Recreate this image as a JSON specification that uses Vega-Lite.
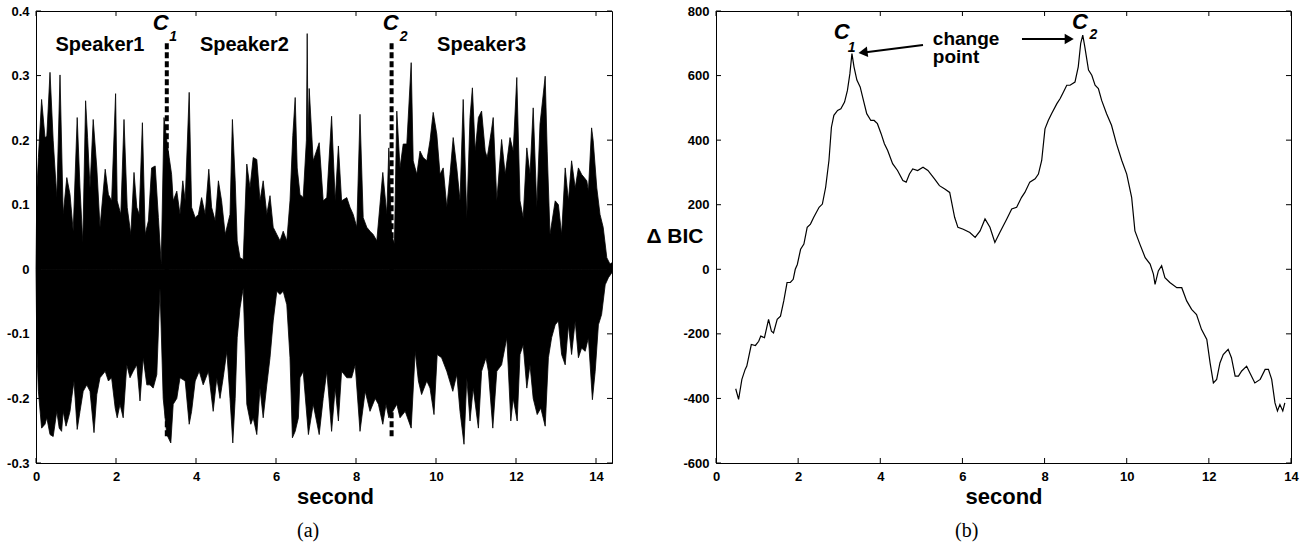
{
  "$schema": "https://vega.github.io/schema/vega-lite/v6.json",
  "padding": {"left": 6, "top": 4, "right": 5, "bottom": 5},
  "background": "white",
  "config": {
    "view": {"stroke": "black", "strokeWidth": 1},
    "font": "Liberation Sans",
    "axis": {
      "grid": false, "domainColor": "black", "labelColor": "black", "titleColor": "black",
      "labelFont": "Liberation Sans", "labelFontSize": 13, "labelFontWeight": "bold",
      "ticks": false, "tickSize": 0, "labelPadding": 7, "labelFlush": false, "labelOverlap": false,
      "titleFont": "Liberation Sans", "titleFontWeight": "bold", "titleFontSize": 22,
      "labelExpr": "replace(format(datum.value, '~g'), '\u2212', '-')"
    }
  },
  "datasets": {
    "wave": [
      {"s":"u","t":0.0,"v":0.0},{"s":"u","t":0.02,"v":0.12},{"s":"u","t":0.06,"v":0.173},{"s":"u","t":0.14,"v":0.263},{"s":"u","t":0.225,"v":0.204},{"s":"u","t":0.27,"v":0.206},{"s":"u","t":0.35,"v":0.305},{"s":"u","t":0.43,"v":0.199},{"s":"u","t":0.52,"v":0.111},{"s":"u","t":0.6,"v":0.301},{"s":"u","t":0.68,"v":0.085},{"s":"u","t":0.77,"v":0.142},{"s":"u","t":0.85,"v":0.116},{"s":"u","t":0.93,"v":0.059},{"s":"u","t":1.03,"v":0.235},{"s":"u","t":1.1,"v":0.126},{"s":"u","t":1.17,"v":0.041},{"s":"u","t":1.24,"v":0.261},{"s":"u","t":1.29,"v":0.204},{"s":"u","t":1.35,"v":0.126},{"s":"u","t":1.43,"v":0.232},{"s":"u","t":1.52,"v":0.157},{"s":"u","t":1.6,"v":0.065},{"s":"u","t":1.73,"v":0.155},{"s":"u","t":1.81,"v":0.116},{"s":"u","t":1.89,"v":0.106},{"s":"u","t":1.99,"v":0.272},{"s":"u","t":2.03,"v":0.106},{"s":"u","t":2.12,"v":0.085},{"s":"u","t":2.2,"v":0.232},{"s":"u","t":2.28,"v":0.096},{"s":"u","t":2.37,"v":0.054},{"s":"u","t":2.45,"v":0.15},{"s":"u","t":2.52,"v":0.096},{"s":"u","t":2.58,"v":0.085},{"s":"u","t":2.66,"v":0.227},{"s":"u","t":2.73,"v":0.054},{"s":"u","t":2.81,"v":0.075},{"s":"u","t":2.89,"v":0.157},{"s":"u","t":2.98,"v":0.16},{"s":"u","t":3.06,"v":0.08},{"s":"u","t":3.13,"v":0.008},{"s":"u","t":3.2,"v":0.235},{"s":"u","t":3.27,"v":0.199},{"s":"u","t":3.33,"v":0.173},{"s":"u","t":3.39,"v":0.147},{"s":"u","t":3.43,"v":0.106},{"s":"u","t":3.52,"v":0.121},{"s":"u","t":3.6,"v":0.085},{"s":"u","t":3.67,"v":0.137},{"s":"u","t":3.73,"v":0.106},{"s":"u","t":3.83,"v":0.274},{"s":"u","t":3.89,"v":0.096},{"s":"u","t":3.98,"v":0.08},{"s":"u","t":4.06,"v":0.085},{"s":"u","t":4.14,"v":0.111},{"s":"u","t":4.23,"v":0.085},{"s":"u","t":4.32,"v":0.155},{"s":"u","t":4.39,"v":0.096},{"s":"u","t":4.48,"v":0.075},{"s":"u","t":4.56,"v":0.137},{"s":"u","t":4.64,"v":0.106},{"s":"u","t":4.73,"v":0.054},{"s":"u","t":4.85,"v":0.085},{"s":"u","t":4.91,"v":0.232},{"s":"u","t":4.98,"v":0.137},{"s":"u","t":5.03,"v":0.044},{"s":"u","t":5.1,"v":0.018},{"s":"u","t":5.18,"v":0.015},{"s":"u","t":5.27,"v":0.163},{"s":"u","t":5.35,"v":0.126},{"s":"u","t":5.43,"v":0.173},{"s":"u","t":5.52,"v":0.17},{"s":"u","t":5.6,"v":0.106},{"s":"u","t":5.68,"v":0.137},{"s":"u","t":5.77,"v":0.085},{"s":"u","t":5.85,"v":0.114},{"s":"u","t":5.93,"v":0.065},{"s":"u","t":6.02,"v":0.054},{"s":"u","t":6.1,"v":0.044},{"s":"u","t":6.18,"v":0.059},{"s":"u","t":6.27,"v":0.044},{"s":"u","t":6.35,"v":0.106},{"s":"u","t":6.42,"v":0.207},{"s":"u","t":6.48,"v":0.266},{"s":"u","t":6.53,"v":0.157},{"s":"u","t":6.6,"v":0.116},{"s":"u","t":6.68,"v":0.111},{"s":"u","t":6.76,"v":0.2},{"s":"u","t":6.78,"v":0.365},{"s":"u","t":6.8,"v":0.2},{"s":"u","t":6.83,"v":0.28},{"s":"u","t":6.93,"v":0.168},{"s":"u","t":7.08,"v":0.196},{"s":"u","t":7.18,"v":0.106},{"s":"u","t":7.27,"v":0.111},{"s":"u","t":7.39,"v":0.237},{"s":"u","t":7.48,"v":0.106},{"s":"u","t":7.56,"v":0.191},{"s":"u","t":7.64,"v":0.106},{"s":"u","t":7.77,"v":0.111},{"s":"u","t":7.85,"v":0.096},{"s":"u","t":7.93,"v":0.085},{"s":"u","t":8.02,"v":0.065},{"s":"u","t":8.1,"v":0.24},{"s":"u","t":8.18,"v":0.08},{"s":"u","t":8.27,"v":0.065},{"s":"u","t":8.35,"v":0.059},{"s":"u","t":8.43,"v":0.054},{"s":"u","t":8.52,"v":0.044},{"s":"u","t":8.67,"v":0.15},{"s":"u","t":8.77,"v":0.085},{"s":"u","t":8.82,"v":0.188},{"s":"u","t":8.89,"v":0.054},{"s":"u","t":8.96,"v":0.039},{"s":"u","t":9.02,"v":0.245},{"s":"u","t":9.1,"v":0.157},{"s":"u","t":9.18,"v":0.194},{"s":"u","t":9.27,"v":0.194},{"s":"u","t":9.38,"v":0.32},{"s":"u","t":9.43,"v":0.168},{"s":"u","t":9.52,"v":0.147},{"s":"u","t":9.6,"v":0.183},{"s":"u","t":9.68,"v":0.173},{"s":"u","t":9.77,"v":0.168},{"s":"u","t":9.85,"v":0.199},{"s":"u","t":9.93,"v":0.243},{"s":"u","t":10.02,"v":0.209},{"s":"u","t":10.1,"v":0.147},{"s":"u","t":10.18,"v":0.157},{"s":"u","t":10.27,"v":0.096},{"s":"u","t":10.35,"v":0.147},{"s":"u","t":10.43,"v":0.204},{"s":"u","t":10.52,"v":0.157},{"s":"u","t":10.6,"v":0.106},{"s":"u","t":10.68,"v":0.263},{"s":"u","t":10.77,"v":0.08},{"s":"u","t":10.85,"v":0.235},{"s":"u","t":10.91,"v":0.281},{"s":"u","t":10.98,"v":0.183},{"s":"u","t":11.06,"v":0.235},{"s":"u","t":11.14,"v":0.245},{"s":"u","t":11.23,"v":0.183},{"s":"u","t":11.28,"v":0.173},{"s":"u","t":11.39,"v":0.217},{"s":"u","t":11.43,"v":0.235},{"s":"u","t":11.52,"v":0.106},{"s":"u","t":11.64,"v":0.201},{"s":"u","t":11.73,"v":0.147},{"s":"u","t":11.85,"v":0.204},{"s":"u","t":11.93,"v":0.183},{"s":"u","t":12.02,"v":0.297},{"s":"u","t":12.1,"v":0.106},{"s":"u","t":12.18,"v":0.08},{"s":"u","t":12.27,"v":0.188},{"s":"u","t":12.35,"v":0.147},{"s":"u","t":12.43,"v":0.25},{"s":"u","t":12.52,"v":0.096},{"s":"u","t":12.6,"v":0.225},{"s":"u","t":12.73,"v":0.299},{"s":"u","t":12.78,"v":0.183},{"s":"u","t":12.85,"v":0.054},{"s":"u","t":12.98,"v":0.106},{"s":"u","t":13.06,"v":0.1},{"s":"u","t":13.14,"v":0.054},{"s":"u","t":13.23,"v":0.157},{"s":"u","t":13.31,"v":0.106},{"s":"u","t":13.39,"v":0.168},{"s":"u","t":13.48,"v":0.126},{"s":"u","t":13.56,"v":0.157},{"s":"u","t":13.64,"v":0.147},{"s":"u","t":13.77,"v":0.137},{"s":"u","t":13.81,"v":0.121},{"s":"u","t":13.89,"v":0.219},{"s":"u","t":13.93,"v":0.199},{"s":"u","t":14.02,"v":0.126},{"s":"u","t":14.1,"v":0.085},{"s":"u","t":14.18,"v":0.065},{"s":"u","t":14.27,"v":0.018},{"s":"u","t":14.35,"v":0.008},{"s":"u","t":14.4,"v":0.01},
      {"s":"d","t":0.0,"v":0.0},{"s":"d","t":0.02,"v":-0.12},{"s":"d","t":0.06,"v":-0.189},{"s":"d","t":0.14,"v":-0.246},{"s":"d","t":0.225,"v":-0.24},{"s":"d","t":0.27,"v":-0.23},{"s":"d","t":0.35,"v":-0.256},{"s":"d","t":0.43,"v":-0.259},{"s":"d","t":0.52,"v":-0.22},{"s":"d","t":0.58,"v":-0.246},{"s":"d","t":0.64,"v":-0.251},{"s":"d","t":0.68,"v":-0.22},{"s":"d","t":0.75,"v":-0.243},{"s":"d","t":0.81,"v":-0.23},{"s":"d","t":0.85,"v":-0.22},{"s":"d","t":0.89,"v":-0.2},{"s":"d","t":0.95,"v":-0.173},{"s":"d","t":1.03,"v":-0.248},{"s":"d","t":1.1,"v":-0.22},{"s":"d","t":1.18,"v":-0.189},{"s":"d","t":1.27,"v":-0.179},{"s":"d","t":1.35,"v":-0.189},{"s":"d","t":1.45,"v":-0.253},{"s":"d","t":1.52,"v":-0.194},{"s":"d","t":1.6,"v":-0.168},{"s":"d","t":1.73,"v":-0.158},{"s":"d","t":1.81,"v":-0.173},{"s":"d","t":1.89,"v":-0.168},{"s":"d","t":1.98,"v":-0.215},{"s":"d","t":2.03,"v":-0.23},{"s":"d","t":2.1,"v":-0.209},{"s":"d","t":2.18,"v":-0.23},{"s":"d","t":2.27,"v":-0.148},{"s":"d","t":2.35,"v":-0.168},{"s":"d","t":2.43,"v":-0.158},{"s":"d","t":2.52,"v":-0.148},{"s":"d","t":2.6,"v":-0.204},{"s":"d","t":2.68,"v":-0.137},{"s":"d","t":2.77,"v":-0.179},{"s":"d","t":2.85,"v":-0.179},{"s":"d","t":2.93,"v":-0.184},{"s":"d","t":3.02,"v":-0.163},{"s":"d","t":3.1,"v":-0.029},{"s":"d","t":3.18,"v":-0.2},{"s":"d","t":3.27,"v":-0.256},{"s":"d","t":3.37,"v":-0.269},{"s":"d","t":3.43,"v":-0.209},{"s":"d","t":3.52,"v":-0.2},{"s":"d","t":3.6,"v":-0.168},{"s":"d","t":3.73,"v":-0.173},{"s":"d","t":3.83,"v":-0.24},{"s":"d","t":3.89,"v":-0.22},{"s":"d","t":3.98,"v":-0.173},{"s":"d","t":4.08,"v":-0.158},{"s":"d","t":4.18,"v":-0.179},{"s":"d","t":4.31,"v":-0.158},{"s":"d","t":4.43,"v":-0.22},{"s":"d","t":4.52,"v":-0.168},{"s":"d","t":4.6,"v":-0.2},{"s":"d","t":4.68,"v":-0.168},{"s":"d","t":4.77,"v":-0.127},{"s":"d","t":4.85,"v":-0.2},{"s":"d","t":4.92,"v":-0.269},{"s":"d","t":4.98,"v":-0.2},{"s":"d","t":5.03,"v":-0.106},{"s":"d","t":5.1,"v":-0.06},{"s":"d","t":5.18,"v":-0.029},{"s":"d","t":5.27,"v":-0.209},{"s":"d","t":5.37,"v":-0.24},{"s":"d","t":5.43,"v":-0.23},{"s":"d","t":5.52,"v":-0.256},{"s":"d","t":5.6,"v":-0.184},{"s":"d","t":5.68,"v":-0.23},{"s":"d","t":5.77,"v":-0.179},{"s":"d","t":5.85,"v":-0.137},{"s":"d","t":5.93,"v":-0.08},{"s":"d","t":6.02,"v":-0.034},{"s":"d","t":6.1,"v":-0.039},{"s":"d","t":6.18,"v":-0.034},{"s":"d","t":6.27,"v":-0.055},{"s":"d","t":6.35,"v":-0.137},{"s":"d","t":6.41,"v":-0.261},{"s":"d","t":6.48,"v":-0.251},{"s":"d","t":6.56,"v":-0.23},{"s":"d","t":6.6,"v":-0.168},{"s":"d","t":6.68,"v":-0.158},{"s":"d","t":6.81,"v":-0.256},{"s":"d","t":6.93,"v":-0.209},{"s":"d","t":7.08,"v":-0.256},{"s":"d","t":7.18,"v":-0.2},{"s":"d","t":7.27,"v":-0.158},{"s":"d","t":7.39,"v":-0.251},{"s":"d","t":7.48,"v":-0.184},{"s":"d","t":7.56,"v":-0.235},{"s":"d","t":7.64,"v":-0.158},{"s":"d","t":7.77,"v":-0.168},{"s":"d","t":7.89,"v":-0.168},{"s":"d","t":7.98,"v":-0.148},{"s":"d","t":8.1,"v":-0.251},{"s":"d","t":8.23,"v":-0.189},{"s":"d","t":8.35,"v":-0.22},{"s":"d","t":8.48,"v":-0.2},{"s":"d","t":8.56,"v":-0.209},{"s":"d","t":8.67,"v":-0.24},{"s":"d","t":8.75,"v":-0.209},{"s":"d","t":8.82,"v":-0.23},{"s":"d","t":8.92,"v":-0.22},{"s":"d","t":9.02,"v":-0.209},{"s":"d","t":9.1,"v":-0.23},{"s":"d","t":9.23,"v":-0.22},{"s":"d","t":9.38,"v":-0.246},{"s":"d","t":9.48,"v":-0.127},{"s":"d","t":9.56,"v":-0.173},{"s":"d","t":9.64,"v":-0.194},{"s":"d","t":9.77,"v":-0.173},{"s":"d","t":9.85,"v":-0.184},{"s":"d","t":9.95,"v":-0.225},{"s":"d","t":10.03,"v":-0.132},{"s":"d","t":10.14,"v":-0.137},{"s":"d","t":10.27,"v":-0.158},{"s":"d","t":10.42,"v":-0.189},{"s":"d","t":10.52,"v":-0.163},{"s":"d","t":10.6,"v":-0.22},{"s":"d","t":10.7,"v":-0.271},{"s":"d","t":10.77,"v":-0.168},{"s":"d","t":10.85,"v":-0.235},{"s":"d","t":10.93,"v":-0.184},{"s":"d","t":11.06,"v":-0.246},{"s":"d","t":11.14,"v":-0.158},{"s":"d","t":11.25,"v":-0.137},{"s":"d","t":11.31,"v":-0.158},{"s":"d","t":11.42,"v":-0.246},{"s":"d","t":11.52,"v":-0.158},{"s":"d","t":11.64,"v":-0.148},{"s":"d","t":11.77,"v":-0.106},{"s":"d","t":11.87,"v":-0.235},{"s":"d","t":11.93,"v":-0.2},{"s":"d","t":12.03,"v":-0.235},{"s":"d","t":12.1,"v":-0.132},{"s":"d","t":12.18,"v":-0.117},{"s":"d","t":12.27,"v":-0.184},{"s":"d","t":12.35,"v":-0.148},{"s":"d","t":12.43,"v":-0.2},{"s":"d","t":12.53,"v":-0.225},{"s":"d","t":12.62,"v":-0.215},{"s":"d","t":12.73,"v":-0.243},{"s":"d","t":12.81,"v":-0.137},{"s":"d","t":12.89,"v":-0.106},{"s":"d","t":12.98,"v":-0.086},{"s":"d","t":13.06,"v":-0.08},{"s":"d","t":13.14,"v":-0.132},{"s":"d","t":13.23,"v":-0.148},{"s":"d","t":13.31,"v":-0.086},{"s":"d","t":13.39,"v":-0.132},{"s":"d","t":13.48,"v":-0.08},{"s":"d","t":13.56,"v":-0.137},{"s":"d","t":13.64,"v":-0.122},{"s":"d","t":13.73,"v":-0.127},{"s":"d","t":13.81,"v":-0.106},{"s":"d","t":13.91,"v":-0.202},{"s":"d","t":13.98,"v":-0.158},{"s":"d","t":14.06,"v":-0.086},{"s":"d","t":14.14,"v":-0.07},{"s":"d","t":14.23,"v":-0.024},{"s":"d","t":14.31,"v":-0.013},{"s":"d","t":14.4,"v":-0.005}
    ],
    "bic": [
      {"t":0.48,"v":-370},{"t":0.55,"v":-403},{"t":0.63,"v":-341},{"t":0.71,"v":-310},{"t":0.75,"v":-300},{"t":0.86,"v":-233},{"t":0.96,"v":-236},{"t":1.04,"v":-223},{"t":1.09,"v":-207},{"t":1.18,"v":-212},{"t":1.28,"v":-155},{"t":1.35,"v":-192},{"t":1.4,"v":-197},{"t":1.49,"v":-155},{"t":1.57,"v":-145},{"t":1.65,"v":-98},{"t":1.73,"v":-41},{"t":1.81,"v":-41},{"t":1.88,"v":-31},{"t":1.93,"v":0},{"t":1.98,"v":15},{"t":2.06,"v":62},{"t":2.14,"v":78},{"t":2.22,"v":130},{"t":2.3,"v":140},{"t":2.38,"v":161},{"t":2.51,"v":192},{"t":2.59,"v":202},{"t":2.67,"v":254},{"t":2.75,"v":337},{"t":2.81,"v":440},{"t":2.87,"v":477},{"t":2.96,"v":492},{"t":3.04,"v":497},{"t":3.13,"v":518},{"t":3.2,"v":554},{"t":3.26,"v":606},{"t":3.31,"v":668},{"t":3.36,"v":627},{"t":3.43,"v":586},{"t":3.51,"v":565},{"t":3.59,"v":523},{"t":3.67,"v":482},{"t":3.77,"v":461},{"t":3.85,"v":461},{"t":3.93,"v":451},{"t":4.02,"v":420},{"t":4.1,"v":389},{"t":4.18,"v":368},{"t":4.3,"v":327},{"t":4.42,"v":306},{"t":4.55,"v":275},{"t":4.63,"v":270},{"t":4.71,"v":295},{"t":4.79,"v":311},{"t":4.91,"v":306},{"t":5.04,"v":316},{"t":5.16,"v":306},{"t":5.32,"v":280},{"t":5.44,"v":259},{"t":5.57,"v":249},{"t":5.69,"v":238},{"t":5.81,"v":161},{"t":5.89,"v":130},{"t":6.02,"v":124},{"t":6.18,"v":114},{"t":6.31,"v":99},{"t":6.43,"v":119},{"t":6.55,"v":156},{"t":6.67,"v":130},{"t":6.79,"v":83},{"t":6.91,"v":114},{"t":7.08,"v":156},{"t":7.2,"v":187},{"t":7.32,"v":192},{"t":7.44,"v":223},{"t":7.52,"v":238},{"t":7.64,"v":270},{"t":7.77,"v":280},{"t":7.85,"v":295},{"t":7.93,"v":337},{"t":8.01,"v":435},{"t":8.09,"v":461},{"t":8.17,"v":482},{"t":8.3,"v":513},{"t":8.38,"v":529},{"t":8.46,"v":549},{"t":8.54,"v":570},{"t":8.62,"v":570},{"t":8.74,"v":580},{"t":8.82,"v":627},{"t":8.88,"v":700},{"t":8.93,"v":725},{"t":8.98,"v":689},{"t":9.07,"v":617},{"t":9.15,"v":601},{"t":9.23,"v":570},{"t":9.31,"v":560},{"t":9.39,"v":523},{"t":9.51,"v":482},{"t":9.63,"v":446},{"t":9.75,"v":389},{"t":9.88,"v":337},{"t":10.0,"v":295},{"t":10.12,"v":223},{"t":10.2,"v":119},{"t":10.32,"v":78},{"t":10.45,"v":36},{"t":10.57,"v":16},{"t":10.65,"v":-15},{"t":10.69,"v":-47},{"t":10.77,"v":-5},{"t":10.85,"v":11},{"t":10.93,"v":-26},{"t":11.05,"v":-41},{"t":11.22,"v":-57},{"t":11.34,"v":-57},{"t":11.46,"v":-98},{"t":11.58,"v":-124},{"t":11.7,"v":-140},{"t":11.82,"v":-186},{"t":11.95,"v":-217},{"t":12.03,"v":-290},{"t":12.11,"v":-352},{"t":12.19,"v":-341},{"t":12.27,"v":-290},{"t":12.35,"v":-264},{"t":12.47,"v":-248},{"t":12.55,"v":-274},{"t":12.64,"v":-331},{"t":12.72,"v":-331},{"t":12.8,"v":-315},{"t":12.92,"v":-300},{"t":13.0,"v":-321},{"t":13.12,"v":-352},{"t":13.25,"v":-341},{"t":13.37,"v":-310},{"t":13.45,"v":-310},{"t":13.53,"v":-341},{"t":13.61,"v":-414},{"t":13.67,"v":-439},{"t":13.73,"v":-419},{"t":13.8,"v":-439},{"t":13.85,"v":-414}
    ],
    "cps": [{"cp":"C1","t":3.27},{"cp":"C2","t":8.89}],
    "spk": [{"label":"Speaker1","t":1.6},{"label":"Speaker2","t":5.21},{"label":"Speaker3","t":11.14}],
    "xt": [{"t":0},{"t":2},{"t":4},{"t":6},{"t":8},{"t":10},{"t":12},{"t":14}],
    "ytl": [{"v":-0.3},{"v":-0.2},{"v":-0.1},{"v":0},{"v":0.1},{"v":0.2},{"v":0.3},{"v":0.4}],
    "ytr": [{"v":-600},{"v":-400},{"v":-200},{"v":0},{"v":200},{"v":400},{"v":600},{"v":800}],
    "one": [{}]
  },
  "spacing": 104,
  "bounds": "flush",
  "hconcat": [
    {
      "width": 576, "height": 452,
      "title": {"text": "(a)", "orient": "bottom", "frame": "group", "anchor": "start", "dx": 261, "offset": 14, "font": "Liberation Serif", "fontSize": 20, "fontWeight": "normal", "color": "black"},
      "layer": [
        {
          "data": {"name": "wave"},
          "mark": {"type": "area", "color": "black", "stroke": "black", "strokeWidth": 0.8, "interpolate": "linear"},
          "encoding": {
            "x": {"field": "t", "type": "quantitative", "scale": {"domain": [0, 14.4], "nice": false, "zero": false},
                  "axis": {"values": [0,2,4,6,8,10,12,14], "title": "second", "titleX": 299, "titleY": 40, "titleBaseline": "alphabetic"}},
            "y": {"field": "v", "type": "quantitative", "scale": {"domain": [-0.3, 0.4], "nice": false},
                  "axis": {"values": [-0.3,-0.2,-0.1,0,0.1,0.2,0.3,0.4], "title": null}},
            "y2": {"datum": 0},
            "detail": {"field": "s"}
          }
        },
        {
          "data": {"name": "xt"},
          "mark": {"type": "rule", "color": "black", "strokeWidth": 1},
          "encoding": {"x": {"field": "t", "type": "quantitative"}, "y": {"datum": -0.3, "type": "quantitative"}, "y2": {"datum": -0.2923}}
        },
        {
          "data": {"name": "xt"},
          "mark": {"type": "rule", "color": "black", "strokeWidth": 1},
          "encoding": {"x": {"field": "t", "type": "quantitative"}, "y": {"datum": 0.4, "type": "quantitative"}, "y2": {"datum": 0.3923}}
        },
        {
          "data": {"name": "ytl"},
          "mark": {"type": "rule", "color": "black", "strokeWidth": 1},
          "encoding": {"y": {"field": "v", "type": "quantitative"}, "x": {"datum": 0, "type": "quantitative"}, "x2": {"datum": 0.125}}
        },
        {
          "data": {"name": "ytl"},
          "mark": {"type": "rule", "color": "black", "strokeWidth": 1},
          "encoding": {"y": {"field": "v", "type": "quantitative"}, "x": {"datum": 14.4, "type": "quantitative"}, "x2": {"datum": 14.275}}
        },
        {
          "data": {"name": "cps"},
          "mark": {"type": "rule", "color": "black", "strokeWidth": 4, "strokeDash": [6, 3]},
          "encoding": {
            "x": {"field": "t", "type": "quantitative"},
            "y": {"datum": 0.35, "type": "quantitative"},
            "y2": {"datum": -0.262}
          }
        },
        {
          "data": {"name": "spk"},
          "mark": {"type": "text", "font": "Liberation Sans", "fontSize": 20, "fontWeight": "bold", "align": "center", "baseline": "alphabetic", "color": "black"},
          "encoding": {
            "x": {"field": "t", "type": "quantitative"},
            "y": {"datum": 0.3385, "type": "quantitative"},
            "text": {"field": "label"}
          }
        },
        {
          "data": {"name": "one"},
          "mark": {"type": "text", "font": "Liberation Sans", "fontSize": 22, "fontWeight": "bold", "fontStyle": "italic", "align": "center", "baseline": "alphabetic", "color": "black"},
          "encoding": {"x": {"datum": 3.12, "type": "quantitative"}, "y": {"datum": 0.371, "type": "quantitative"}, "text": {"value": "C"}}
        },
        {
          "data": {"name": "one"},
          "mark": {"type": "text", "font": "Liberation Sans", "fontSize": 14, "fontWeight": "bold", "fontStyle": "italic", "align": "center", "baseline": "alphabetic", "color": "black"},
          "encoding": {"x": {"datum": 3.43, "type": "quantitative"}, "y": {"datum": 0.353, "type": "quantitative"}, "text": {"value": "1"}}
        },
        {
          "data": {"name": "one"},
          "mark": {"type": "text", "font": "Liberation Sans", "fontSize": 22, "fontWeight": "bold", "fontStyle": "italic", "align": "center", "baseline": "alphabetic", "color": "black"},
          "encoding": {"x": {"datum": 8.87, "type": "quantitative"}, "y": {"datum": 0.371, "type": "quantitative"}, "text": {"value": "C"}}
        },
        {
          "data": {"name": "one"},
          "mark": {"type": "text", "font": "Liberation Sans", "fontSize": 14, "fontWeight": "bold", "fontStyle": "italic", "align": "center", "baseline": "alphabetic", "color": "black"},
          "encoding": {"x": {"datum": 9.19, "type": "quantitative"}, "y": {"datum": 0.353, "type": "quantitative"}, "text": {"value": "2"}}
        }
      ]
    },
    {
      "width": 575, "height": 452,
      "title": {"text": "(b)", "orient": "bottom", "frame": "group", "anchor": "start", "dx": 239, "offset": 14, "font": "Liberation Serif", "fontSize": 20, "fontWeight": "normal", "color": "black"},
      "layer": [
        {
          "data": {"name": "bic"},
          "mark": {"type": "line", "color": "black", "strokeWidth": 1.2},
          "encoding": {
            "x": {"field": "t", "type": "quantitative", "scale": {"domain": [0, 14], "nice": false},
                  "axis": {"values": [0,2,4,6,8,10,12,14], "title": "second", "titleY": 40, "titleBaseline": "alphabetic"}},
            "y": {"field": "v", "type": "quantitative", "scale": {"domain": [-600, 800], "nice": false},
                  "axis": {"values": [-600,-400,-200,0,200,400,600,800], "title": "\u0394 BIC", "titleAngle": 0, "titleAlign": "right", "titleBaseline": "alphabetic", "titleX": -13, "titleY": 231, "titleFontSize": 21}}
          }
        },
        {
          "data": {"name": "xt"},
          "mark": {"type": "rule", "color": "black", "strokeWidth": 1},
          "encoding": {"x": {"field": "t", "type": "quantitative"}, "y": {"datum": -600, "type": "quantitative"}, "y2": {"datum": -584.5}}
        },
        {
          "data": {"name": "xt"},
          "mark": {"type": "rule", "color": "black", "strokeWidth": 1},
          "encoding": {"x": {"field": "t", "type": "quantitative"}, "y": {"datum": 800, "type": "quantitative"}, "y2": {"datum": 784.5}}
        },
        {
          "data": {"name": "ytr"},
          "mark": {"type": "rule", "color": "black", "strokeWidth": 1},
          "encoding": {"y": {"field": "v", "type": "quantitative"}, "x": {"datum": 0, "type": "quantitative"}, "x2": {"datum": 0.122}}
        },
        {
          "data": {"name": "ytr"},
          "mark": {"type": "rule", "color": "black", "strokeWidth": 1},
          "encoding": {"y": {"field": "v", "type": "quantitative"}, "x": {"datum": 14, "type": "quantitative"}, "x2": {"datum": 13.878}}
        },
        {
          "data": {"name": "one"},
          "mark": {"type": "rule", "color": "black", "strokeWidth": 2},
          "encoding": {
            "x": {"datum": 5.04, "type": "quantitative"}, "x2": {"datum": 3.65},
            "y": {"datum": 694.7, "type": "quantitative"}, "y2": {"datum": 672}
          }
        },
        {
          "data": {"name": "one"},
          "mark": {"type": "rule", "color": "black", "strokeWidth": 2},
          "encoding": {
            "x": {"datum": 7.45, "type": "quantitative"}, "x2": {"datum": 8.6},
            "y": {"datum": 713, "type": "quantitative"}, "y2": {"datum": 713}
          }
        },
        {
          "data": {"name": "one"},
          "mark": {"type": "point", "shape": "triangle-left", "filled": true, "color": "black", "opacity": 1, "size": 110, "angle": -7},
          "encoding": {"x": {"datum": 3.58, "type": "quantitative"}, "y": {"datum": 672, "type": "quantitative"}}
        },
        {
          "data": {"name": "one"},
          "mark": {"type": "point", "shape": "triangle-right", "filled": true, "color": "black", "opacity": 1, "size": 110},
          "encoding": {"x": {"datum": 8.6, "type": "quantitative"}, "y": {"datum": 713, "type": "quantitative"}}
        },
        {
          "data": {"name": "one"},
          "mark": {"type": "text", "font": "Liberation Sans", "fontSize": 19, "fontWeight": "bold", "align": "left", "baseline": "alphabetic", "color": "black"},
          "encoding": {"x": {"datum": 5.28, "type": "quantitative"}, "y": {"datum": 695, "type": "quantitative"}, "text": {"value": "change"}}
        },
        {
          "data": {"name": "one"},
          "mark": {"type": "text", "font": "Liberation Sans", "fontSize": 19, "fontWeight": "bold", "align": "left", "baseline": "alphabetic", "color": "black"},
          "encoding": {"x": {"datum": 5.28, "type": "quantitative"}, "y": {"datum": 638, "type": "quantitative"}, "text": {"value": "point"}}
        },
        {
          "data": {"name": "one"},
          "mark": {"type": "text", "font": "Liberation Sans", "fontSize": 22, "fontWeight": "bold", "fontStyle": "italic", "align": "center", "baseline": "alphabetic", "color": "black"},
          "encoding": {"x": {"datum": 3.06, "type": "quantitative"}, "y": {"datum": 712, "type": "quantitative"}, "text": {"value": "C"}}
        },
        {
          "data": {"name": "one"},
          "mark": {"type": "text", "font": "Liberation Sans", "fontSize": 14, "fontWeight": "bold", "fontStyle": "italic", "align": "center", "baseline": "alphabetic", "color": "black"},
          "encoding": {"x": {"datum": 3.3, "type": "quantitative"}, "y": {"datum": 673, "type": "quantitative"}, "text": {"value": "1"}}
        },
        {
          "data": {"name": "one"},
          "mark": {"type": "text", "font": "Liberation Sans", "fontSize": 22, "fontWeight": "bold", "fontStyle": "italic", "align": "center", "baseline": "alphabetic", "color": "black"},
          "encoding": {"x": {"datum": 8.86, "type": "quantitative"}, "y": {"datum": 743, "type": "quantitative"}, "text": {"value": "C"}}
        },
        {
          "data": {"name": "one"},
          "mark": {"type": "text", "font": "Liberation Sans", "fontSize": 14, "fontWeight": "bold", "fontStyle": "italic", "align": "center", "baseline": "alphabetic", "color": "black"},
          "encoding": {"x": {"datum": 9.19, "type": "quantitative"}, "y": {"datum": 712, "type": "quantitative"}, "text": {"value": "2"}}
        }
      ]
    }
  ]
}
